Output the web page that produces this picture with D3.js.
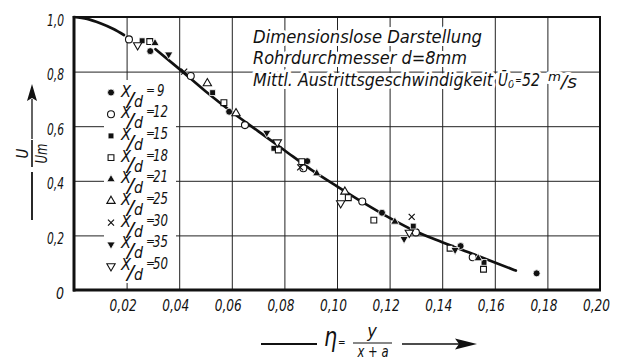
<!DOCTYPE html>
<html>
<head>
<meta charset="utf-8">
<script src="https://cdn.jsdelivr.net/npm/d3@7"></script>
<style>
  html, body { margin: 0; padding: 0; background: #fff; }
  svg { display: block; }
  text { font-family: 'DejaVu Sans Condensed', 'DejaVu Sans', sans-serif; font-style: oblique; fill: #111; }
</style>
</head>
<body>
<div id="chart"></div>
<script>
// tick values
var xTicks = [0.02, 0.04, 0.06, 0.08, 0.10, 0.12, 0.14, 0.16, 0.18, 0.20];
var yTicks = [0, 0.2, 0.4, 0.6, 0.8, 1.0];

// drawn mean curve (two pieces, broken where the first points sit)
var curveEtaA = [0, 0.005, 0.01, 0.015, 0.019];
var curveUA   = [1.0, 0.993, 0.977, 0.956, 0.934];
var curveEtaB = [0.031, 0.04, 0.05, 0.06, 0.07, 0.08, 0.09, 0.10, 0.11, 0.12, 0.13, 0.14, 0.15, 0.16, 0.168];
var curveUB   = [0.882, 0.81, 0.728, 0.652, 0.582, 0.512, 0.442, 0.38, 0.32, 0.264, 0.214, 0.175, 0.138, 0.101, 0.071];

// measured points [eta, u/um] per x/d
var xd9  = [[0.029, 0.875], [0.059, 0.653], [0.0887, 0.472], [0.1171, 0.283], [0.147, 0.161], [0.1759, 0.061]];
var xd12 = [[0.0209, 0.918], [0.0444, 0.784], [0.065, 0.604], [0.0872, 0.446], [0.1096, 0.324], [0.130, 0.211], [0.1516, 0.12]];
var xd15 = [[0.0259, 0.913], [0.0527, 0.723], [0.076, 0.519], [0.129, 0.234], [0.1559, 0.101]];
var xd18 = [[0.0288, 0.91], [0.057, 0.686], [0.0777, 0.513], [0.0866, 0.47], [0.1043, 0.338], [0.114, 0.256], [0.143, 0.153], [0.1557, 0.076]];
var xd21 = [[0.0308, 0.904], [0.0923, 0.427], [0.122, 0.25], [0.1537, 0.116]];
var xd25 = [[0.0507, 0.757], [0.0616, 0.647], [0.103, 0.36]];
var xd30 = [[0.0419, 0.80], [0.086, 0.449], [0.1284, 0.268]];
var xd35 = [[0.036, 0.863], [0.0733, 0.576], [0.1255, 0.187], [0.1449, 0.147]];
var xd50 = [[0.0242, 0.897], [0.0773, 0.541], [0.1014, 0.318], [0.1275, 0.21]];

var legendLabels = ["9", "12", "15", "18", "21", "25", "30", "35", "50"];
var markerTypes  = ["circle", "circle", "square", "square", "up", "up", "times", "down", "down"];
var markerFilled = [true, false, true, false, true, false, true, true, false];
var seriesData   = [xd9, xd12, xd15, xd18, xd21, xd25, xd30, xd35, xd50];

var width = 617, height = 358;
var svg = d3.select("#chart").append("svg")
    .attr("width", width)
    .attr("height", height);
svg.append("rect").attr("width", width).attr("height", height).attr("fill", "#fff");

var x = d3.scaleLinear().domain([0, 0.2]).range([74, 600]);
var y = d3.scaleLinear().domain([0, 1]).range([290, 17]);

/* ------- GRID + TICK LABELS -------*/
var gx = svg.append("g")
    .attr("transform", "translate(0,290)")
    .call(d3.axisBottom(x).tickValues(xTicks).tickSize(-273).tickPadding(10)
        .tickFormat(function (d) { return d.toFixed(2).replace(".", ","); }));
gx.select(".domain").remove();
gx.selectAll("line").attr("stroke", "#222").attr("stroke-width", 1);
gx.selectAll("text")
    .attr("dx", -4)
    .attr("textLength", 27)
    .attr("lengthAdjust", "spacingAndGlyphs")
    .style("font-size", "16px");

var gy = svg.append("g")
    .attr("transform", "translate(74,0)")
    .call(d3.axisLeft(y).tickValues(yTicks).tickSize(-526).tickPadding(10)
        .tickFormat(function (d) { return d === 0 ? "0" : d.toFixed(1).replace(".", ","); }));
gy.select(".domain").remove();
gy.selectAll("line").attr("stroke", "#222").attr("stroke-width", 1);
gy.selectAll("text")
    .attr("dy", "0.5em")
    .attr("textLength", function (d) { return d === 0 ? 8 : 17; })
    .attr("lengthAdjust", "spacingAndGlyphs")
    .style("font-size", "16px");

// legend knocks out the grid behind it
svg.append("rect")
    .attr("x", 104).attr("y", 80).attr("width", 72).attr("height", 203)
    .attr("fill", "#fff");

/* ------- FRAME -------*/
svg.append("rect")
    .attr("x", x(0)).attr("y", y(1))
    .attr("width", x(0.2) - x(0)).attr("height", y(0) - y(1))
    .attr("fill", "none").attr("stroke", "#111").attr("stroke-width", 2);
svg.append("line")
    .attr("x1", x(0)).attr("x2", x(0)).attr("y1", y(1) - 1).attr("y2", y(0) + 1.5)
    .attr("stroke", "#111").attr("stroke-width", 3);
svg.append("line")
    .attr("x1", x(0) - 1).attr("x2", x(0.2) + 1).attr("y1", y(0)).attr("y2", y(0))
    .attr("stroke", "#111").attr("stroke-width", 3);

/* ------- CURVE -------*/
var line = d3.line()
    .x(function (d) { return x(d[0]); })
    .y(function (d) { return y(d[1]); })
    .curve(d3.curveMonotoneX);
[[curveEtaA, curveUA], [curveEtaB, curveUB]].forEach(function (c) {
    svg.append("path")
        .attr("d", line(c[0].map(function (e, i) { return [e, c[1][i]]; })))
        .attr("fill", "none")
        .attr("stroke", "#111")
        .attr("stroke-width", 2.7)
        .attr("stroke-linecap", "round");
});

/* ------- MARKERS -------*/
function markerPath(type) {
    if (type === "circle") return d3.symbol().type(d3.symbolCircle).size(38)();
    if (type === "square") return d3.symbol().type(d3.symbolSquare).size(34)();
    if (type === "up" || type === "down") return d3.symbol().type(d3.symbolTriangle).size(30)();
    return "M-3,-3L3,3M-3,3L3,-3";
}
function drawMarker(g, type, filled, px, py) {
    var p = g.append("path")
        .attr("d", markerPath(type))
        .attr("transform", "translate(" + px + "," + py + ")" + (type === "down" ? " rotate(180)" : ""));
    if (type === "times") {
        p.attr("fill", "none").attr("stroke", "#111").attr("stroke-width", 1.2);
    } else if (filled) {
        p.attr("fill", "#111").attr("stroke", "#fff").attr("stroke-width", 0.8);
    } else {
        p.attr("fill", "#fff").attr("stroke", "#111").attr("stroke-width", 1.1);
    }
}
var pts = svg.append("g").attr("class", "points");
seriesData.forEach(function (data, i) {
    data.forEach(function (d) {
        drawMarker(pts, markerTypes[i], markerFilled[i], x(d[0]), y(d[1]));
    });
});

/* ------- LEGEND -------*/
var leg = svg.append("g").attr("class", "legend");
legendLabels.forEach(function (lab, i) {
    var ry = 92.5 + i * 21.7;
    drawMarker(leg, markerTypes[i], markerFilled[i], 111, ry);
    leg.append("text").attr("x", 121).attr("y", ry + 4).style("font-size", "16px")
        .attr("textLength", 10).attr("lengthAdjust", "spacingAndGlyphs").text("X");
    leg.append("text").attr("x", 127).attr("y", ry + 13).style("font-size", "20px")
        .attr("textLength", 7).attr("lengthAdjust", "spacingAndGlyphs").text("/");
    leg.append("text").attr("x", 134).attr("y", ry + 14).style("font-size", "15px")
        .attr("textLength", 9).attr("lengthAdjust", "spacingAndGlyphs").text("d");
    leg.append("text").attr("x", 146).attr("y", ry + 1).style("font-size", "12px").text("=");
    leg.append("text").attr("x", lab.length > 1 ? 153 : 157).attr("y", ry + 3).style("font-size", "15px")
        .attr("textLength", lab.length * 7.5).attr("lengthAdjust", "spacingAndGlyphs").text(lab);
});

/* ------- TITLE BLOCK -------*/
var title = svg.append("g")
    .attr("class", "title")
    .style("font-size", "17px");
function halo(sel) {
    return sel.attr("stroke", "#fff").attr("stroke-width", 6)
        .attr("stroke-linejoin", "round").style("paint-order", "stroke");
}
halo(title.append("text").attr("x", 253).attr("y", 43)
    .attr("textLength", 229).attr("lengthAdjust", "spacingAndGlyphs")
    .text("Dimensionslose Darstellung"));
halo(title.append("text").attr("x", 253).attr("y", 64)
    .attr("textLength", 214).attr("lengthAdjust", "spacingAndGlyphs")
    .text("Rohrdurchmesser d=8mm"));
halo(title.append("text").attr("x", 253).attr("y", 86)
    .attr("textLength", 240).attr("lengthAdjust", "spacingAndGlyphs")
    .text("Mittl. Austrittsgeschwindigkeit"));
halo(title.append("text").attr("x", 498).attr("y", 86)
    .attr("textLength", 10).attr("lengthAdjust", "spacingAndGlyphs").text("Ū"));
halo(title.append("text").attr("x", 508).attr("y", 88).style("font-size", "11px").text("0"));
halo(title.append("text").attr("x", 515).attr("y", 84).style("font-size", "11px").text("="));
halo(title.append("text").attr("x", 522).attr("y", 86)
    .attr("textLength", 18).attr("lengthAdjust", "spacingAndGlyphs").text("52"));
halo(title.append("text").attr("x", 548).attr("y", 81).style("font-size", "12px")
    .attr("textLength", 13).attr("lengthAdjust", "spacingAndGlyphs").text("m"));
halo(title.append("text").attr("x", 561).attr("y", 88)
    .attr("textLength", 16).attr("lengthAdjust", "spacingAndGlyphs").text("/s"));

/* ------- AXIS TITLES -------*/
// y: arrow + U/Um rotated
svg.append("line").attr("x1", 32).attr("x2", 32).attr("y1", 99).attr("y2", 139)
    .attr("stroke", "#111").attr("stroke-width", 1.3);
svg.append("line").attr("x1", 32).attr("x2", 32).attr("y1", 172).attr("y2", 220)
    .attr("stroke", "#111").attr("stroke-width", 1.8);
svg.append("path").attr("d", "M32,84L27,101L32,98L37,101Z").attr("fill", "#111");
var yt = svg.append("g").attr("transform", "translate(32,153.5) rotate(-90)");
yt.append("line").attr("x1", -13.5).attr("x2", 13.5).attr("y1", 0).attr("y2", 0)
    .attr("stroke", "#111").attr("stroke-width", 1.6);
yt.append("text").attr("x", 0).attr("y", -4).attr("text-anchor", "middle")
    .style("font-size", "15px").text("U");
yt.append("text").attr("x", 0).attr("y", 15).attr("text-anchor", "middle")
    .style("font-size", "15px").attr("textLength", 20).attr("lengthAdjust", "spacingAndGlyphs").text("Um");

// x: eta = y/(x+a) with arrows
svg.append("line").attr("x1", 261).attr("x2", 317).attr("y1", 344).attr("y2", 344)
    .attr("stroke", "#111").attr("stroke-width", 2);
svg.append("text").attr("x", 324).attr("y", 346).style("font-size", "26px")
    .attr("textLength", 13).attr("lengthAdjust", "spacingAndGlyphs").text("η");
svg.append("text").attr("x", 338).attr("y", 346).style("font-size", "10px").text("=");
svg.append("text").attr("x", 372).attr("y", 337).attr("text-anchor", "middle")
    .style("font-size", "18px").text("y");
svg.append("line").attr("x1", 353).attr("x2", 392).attr("y1", 343).attr("y2", 343)
    .attr("stroke", "#111").attr("stroke-width", 1.2);
svg.append("text").attr("x", 373).attr("y", 357).attr("text-anchor", "middle")
    .style("font-size", "15px").attr("textLength", 31).attr("lengthAdjust", "spacingAndGlyphs").text("x + a");
svg.append("line").attr("x1", 402).attr("x2", 462).attr("y1", 344).attr("y2", 344)
    .attr("stroke", "#111").attr("stroke-width", 1.6);
svg.append("path").attr("d", "M477,344L455,338.5L459,344L455,349.5Z").attr("fill", "#111");
</script>
</body>
</html>
